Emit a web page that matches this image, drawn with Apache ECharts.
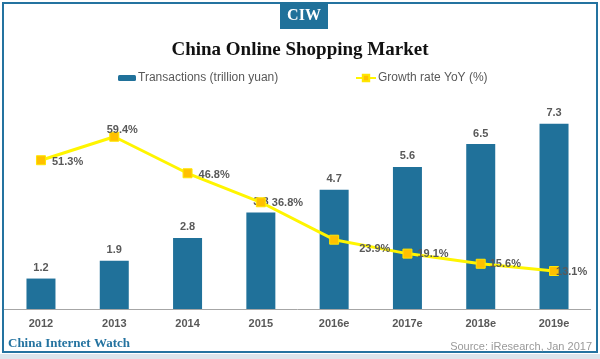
<!DOCTYPE html>
<html>
<head>
<meta charset="utf-8">
<script src="https://cdn.jsdelivr.net/npm/echarts@6/dist/echarts.min.js"></script>
<style>
html,body{margin:0;padding:0;background:#fff;}
#chart{width:600px;height:359px;}
</style>
</head>
<body>
<div id="chart"></div>
<script>
const categories = ['2012', '2013', '2014', '2015', '2016e', '2017e', '2018e', '2019e'];
const transactions = [1.2, 1.9, 2.8, 3.8, 4.7, 5.6, 6.5, 7.3];
const growthRate = [51.3, 59.4, 46.8, 36.8, 23.9, 19.1, 15.6, 13.1];
const barName = 'Transactions (trillion yuan)';
const lineName = 'Growth rate YoY (%)';

// label placement styles for the growth line (style only, not data)
const lineLabelStyle = [
  {position: 'right', distance: 6, offset: [0, 2]},
  {position: 'top', distance: -4, offset: [8, 0]},
  {position: 'right', distance: 6, offset: [0, 2]},
  {position: 'right', distance: 6, offset: [0, 1]},
  {position: 'right', distance: 5, offset: [15, 9]},
  {position: 'right', distance: 5, offset: [0, 0]},
  {position: 'right', distance: 4, offset: [0, 0]},
  {position: 'right', distance: 4, offset: [-7, 1]}
];

const gray = '#595959';
const blue = '#20719a';
const sans = '"Liberation Sans", Arial, sans-serif';
const serif = '"Liberation Serif", "Times New Roman", serif';

const chart = echarts.init(document.getElementById('chart'), null, {renderer: 'canvas'});
chart.setOption({
  animation: false,
  backgroundColor: '#fff',
  title: {
    text: 'China Online Shopping Market',
    left: 'center',
    top: 36,
    textStyle: {fontFamily: serif, fontWeight: 'bold', fontSize: 19, color: '#111'}
  },
  legend: [
    {
      data: [barName],
      left: 113, top: 67,
      itemWidth: 18, itemHeight: 6,
      textStyle: {fontFamily: sans, fontSize: 12, color: gray, padding: [0, 0, 0, -3]}
    },
    {
      data: [lineName],
      left: 350, top: 67,
      itemWidth: 20, itemHeight: 8,
      textStyle: {fontFamily: sans, fontSize: 12, color: gray, padding: [0, 0, 0, -3]}
    }
  ],
  grid: {left: 4.33, right: 9.33, top: 106, bottom: 50},
  xAxis: {
    type: 'category',
    data: categories,
    axisLine: {lineStyle: {color: '#a6a6a6', width: 1}},
    axisTick: {show: false},
    axisLabel: {fontFamily: sans, fontSize: 11, fontWeight: 'bold', color: gray, margin: 9}
  },
  yAxis: [
    {type: 'value', min: 0, max: 8, show: false, splitLine: {show: false}},
    {type: 'value', min: 0, max: 70, show: false, splitLine: {show: false}}
  ],
  series: [
    {
      name: barName,
      type: 'bar',
      data: transactions,
      barWidth: 29,
      itemStyle: {color: blue},
      label: {show: true, position: 'top', distance: 5, fontFamily: sans, fontSize: 11, fontWeight: 'bold', color: gray}
    },
    {
      name: lineName,
      type: 'line',
      yAxisIndex: 1,
      data: growthRate.map((v, i) => ({
        value: v,
        label: Object.assign({}, lineLabelStyle[i])
      })),
      symbol: 'rect',
      symbolSize: 9,
      lineStyle: {color: '#FFF500', width: 3},
      itemStyle: {color: '#FFC000', borderColor: '#FFE600', borderWidth: 1},
      label: {
        show: true,
        fontFamily: sans, fontSize: 11, fontWeight: 'bold', color: gray,
        formatter: p => p.value.toFixed(1) + '%'
      },
      z: 3
    }
  ],
  graphic: [
    {type: 'rect', shape: {x: 0, y: 354, width: 600, height: 5}, style: {fill: '#dbe5ec'}, silent: true},
    {type: 'rect', shape: {x: 3, y: 3, width: 594, height: 349}, style: {fill: 'none', stroke: '#2473a0', lineWidth: 2}, silent: true},
    {type: 'rect', shape: {x: 280, y: 2, width: 48, height: 27}, style: {fill: blue}, silent: true},
    {type: 'text', x: 304, y: 16, style: {text: 'CIW', fill: '#fff', font: 'bold 16px ' + serif, textAlign: 'center', textVerticalAlign: 'middle'}, silent: true},
    {type: 'text', x: 8, y: 344, style: {text: 'China Internet Watch', fill: '#2473a0', font: 'bold 13px ' + serif, textAlign: 'left', textVerticalAlign: 'middle'}, silent: true},
    {type: 'text', x: 592, y: 347, style: {text: 'Source: iResearch, Jan 2017', fill: '#9a9a9a', font: '11px ' + sans, textAlign: 'right', textVerticalAlign: 'middle'}, silent: true}
  ]
});
</script>
</body>
</html>
